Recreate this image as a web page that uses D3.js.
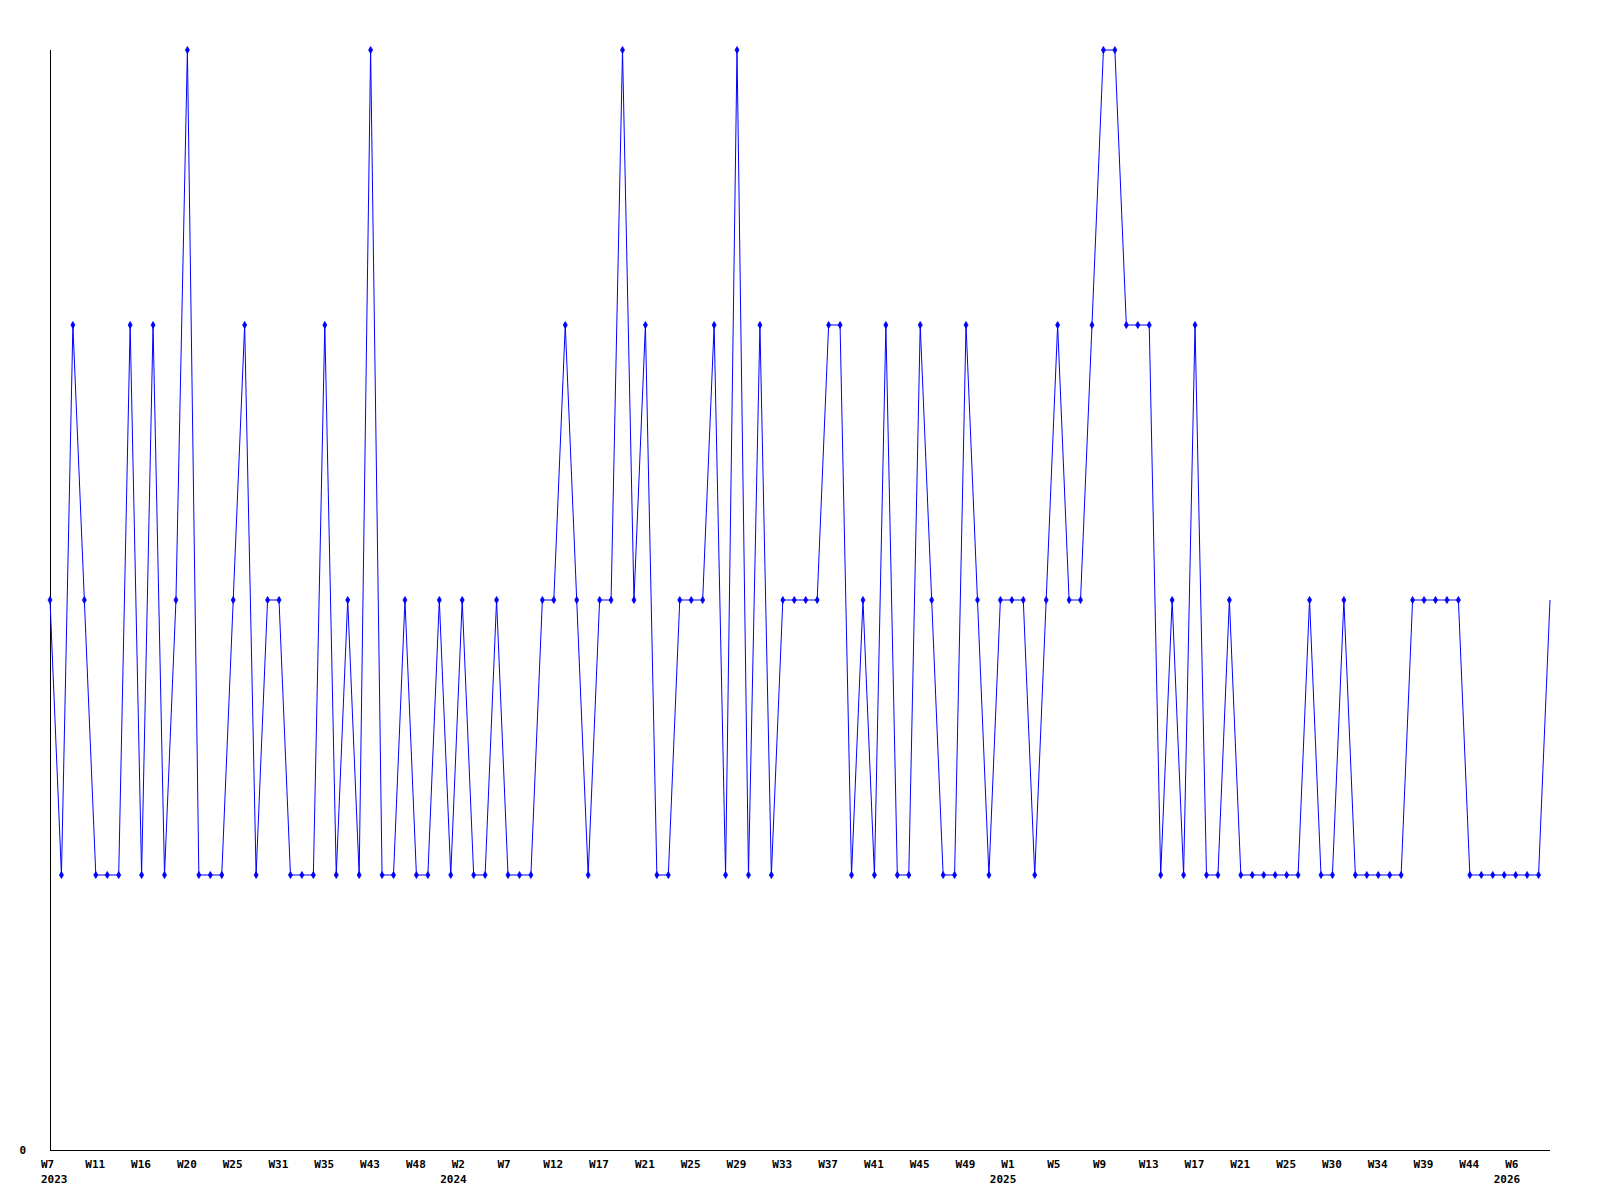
<!DOCTYPE html>
<html>
<head>
<meta charset="utf-8">
<script src="https://cdn.jsdelivr.net/npm/d3@7"></script>
<style>
  body { margin: 0; background: #fff; }
  #chart { width: 1600px; height: 1200px; }
  text { font-family: 'DejaVu Sans Mono', monospace; font-size: 11px; font-weight: bold; fill: #000; }
</style>
</head>
<body>
<div id="chart"></div>
<script>
// one value per sample
var values = [
  2, 1, 3, 2, 1, 1, 1, 3, 1, 3, 1, 2, 4, 1, 1, 1, 2, 3, 1, 2,
  2, 1, 1, 1, 3, 1, 2, 1, 4, 1, 1, 2, 1, 1, 2, 1, 2, 1, 1, 2,
  1, 1, 1, 2, 2, 3, 2, 1, 2, 2, 4, 2, 3, 1, 1, 2, 2, 2, 3, 1,
  4, 1, 3, 1, 2, 2, 2, 2, 3, 3, 1, 2, 1, 3, 1, 1, 3, 2, 1, 1,
  3, 2, 1, 2, 2, 2, 1, 2, 3, 2, 2, 3, 4, 4, 3, 3, 3, 1, 2, 1,
  3, 1, 1, 2, 1, 1, 1, 1, 1, 1, 2, 1, 1, 2, 1, 1, 1, 1, 1, 2,
  2, 2, 2, 2, 1, 1, 1, 1, 1, 1, 1, 2
]

// a week label on every 4th sample
var weekLabels = [
  'W7', 'W11', 'W16', 'W20', 'W25', 'W31', 'W35', 'W43', 'W48', 'W2', 'W7',
  'W12', 'W17', 'W21', 'W25', 'W29', 'W33', 'W37', 'W41', 'W45', 'W49', 'W1',
  'W5', 'W9', 'W13', 'W17', 'W21', 'W25', 'W30', 'W34', 'W39', 'W44', 'W6'
]
var labelStep = 4

var yearLabels = ['2023', '2024', '2025', '2026']
var yearIndex = [0, 36, 84, 128]

var yTicks = [0]

var plotLeft = 50
var plotRight = 1550
var plotTop = 50
var plotBottom = 1150

var x = d3.scaleLinear()
  .domain([0, values.length - 1])
  .range([plotLeft, plotRight])

var y = d3.scaleLinear()
  .domain([0, 4])
  .range([plotBottom, plotTop])

var svg = d3.select('#chart').append('svg')
  .attr('width', 1600)
  .attr('height', 1200)

// axes: plain lines, no tick marks
svg.append('line')
  .attr('x1', plotLeft + 0.5).attr('x2', plotLeft + 0.5)
  .attr('y1', plotTop).attr('y2', plotBottom + 1)
  .attr('stroke', '#000')
  .attr('shape-rendering', 'crispEdges')

svg.append('line')
  .attr('x1', plotLeft).attr('x2', plotRight)
  .attr('y1', plotBottom + 0.5).attr('y2', plotBottom + 0.5)
  .attr('stroke', '#000')
  .attr('shape-rendering', 'crispEdges')

svg.selectAll('text.ylab')
  .data(yTicks)
  .enter().append('text')
  .attr('class', 'ylab')
  .attr('x', 26)
  .attr('y', function (d) { return y(d) + 4 })
  .attr('text-anchor', 'end')
  .text(function (d) { return d })

svg.selectAll('text.week')
  .data(weekLabels)
  .enter().append('text')
  .attr('class', 'week')
  .attr('x', function (d, i) { return Math.max(41, x(i * labelStep) - 10.5) })
  .attr('y', 1168)
  .text(function (d) { return d })

svg.selectAll('text.year')
  .data(yearLabels)
  .enter().append('text')
  .attr('class', 'year')
  .attr('x', function (d, i) { return Math.max(41, x(yearIndex[i]) - 22) })
  .attr('y', 1183)
  .text(function (d) { return d })

var line = d3.line()
  .x(function (d, i) { return x(i) })
  .y(function (d) { return y(d) })

svg.append('path')
  .datum(values)
  .attr('d', line)
  .attr('fill', 'none')
  .attr('stroke', '#0000ff')
  .attr('stroke-width', 1)

// markers on every sample except the last one
var sym = d3.symbol().type(d3.symbolDiamond).size(14)

svg.selectAll('path.mark')
  .data(values.slice(0, values.length - 1))
  .enter().append('path')
  .attr('class', 'mark')
  .attr('d', sym)
  .attr('transform', function (d, i) { return 'translate(' + x(i) + ',' + y(d) + ')' })
  .attr('fill', '#0000ff')
  .attr('stroke', '#0000ff')
  .attr('stroke-width', 0.8)
</script>
</body>
</html>
